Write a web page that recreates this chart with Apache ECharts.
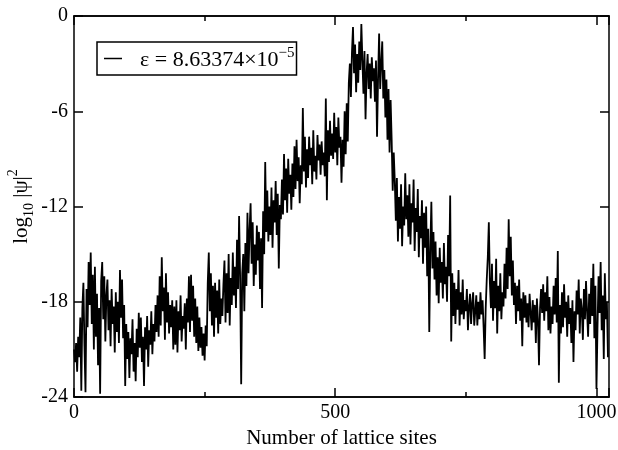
<!DOCTYPE html>
<html>
<head>
<meta charset="utf-8">
<title>log10 |psi|^2</title>
<script src="https://cdn.jsdelivr.net/npm/echarts@6/dist/echarts.min.js"></script>
<style>
  html, body { margin: 0; padding: 0; background: #fff; }
  #main { width: 618px; height: 450px; }
</style>
</head>
<body>
<div id="main"></div>
<script>
// every 2nd lattice site
var siteStep = 2;
var siteMax = 1024;
var xTickLabels = [0, 500, 1000];
var yTickLabels = [-24, -18, -12, -6, 0];
var epsLabel = 'ε = 8.63374×10';
var epsExp = '−5';

var logPsi = [
  -21.0, -21.8, -20.6, -22.4, -20.2, -21.5, -19.0, -23.6, -18.4, -16.8, -20.8, -23.7, -17.2, -19.6, -15.5, -18.2,
  -14.9, -19.4, -16.3, -21.0, -15.8, -20.2, -17.5, -22.0, -18.4, -23.8, -16.7, -15.5, -19.1, -16.4, -20.5, -17.6,
  -16.6, -19.8, -17.9, -20.8, -17.2, -19.4, -18.3, -21.2, -17.4, -19.9, -18.0, -20.6, -16.0, -19.0, -16.6, -20.3,
  -18.2, -23.3, -19.4, -21.6, -19.9, -22.8, -20.3, -21.3, -19.1, -22.4, -20.6, -23.0, -19.7, -21.5, -18.7, -20.9,
  -19.0, -21.8, -20.2, -23.3, -19.6, -21.0, -18.9, -22.1, -19.8, -20.7, -18.6, -21.3, -19.4, -20.5, -18.2, -19.9,
  -17.6, -20.2, -16.4, -19.5, -15.2, -18.6, -17.1, -20.4, -16.2, -19.3, -17.4, -20.0, -18.2, -19.6, -17.9, -21.0,
  -18.3, -20.7, -17.9, -21.2, -18.6, -19.8, -17.6, -20.5, -18.9, -19.7, -18.1, -21.0, -17.8, -19.3, -16.4, -19.9,
  -16.3, -19.2, -17.0, -20.2, -17.8, -20.6, -18.3, -21.1, -19.0, -20.9, -19.6, -21.4, -20.0, -21.7, -19.5, -20.8,
  -16.8, -14.9, -18.6, -16.2, -19.5, -17.0, -20.2, -16.8, -19.0, -17.3, -20.0, -16.6, -19.4, -17.8, -18.9, -16.9,
  -15.4, -19.3, -16.2, -18.7, -15.0, -19.5, -16.5, -18.2, -14.9, -17.6, -15.8, -18.4, -14.1, -17.2, -12.6, -16.5,
  -23.2, -16.2, -15.0, -18.6, -14.3, -17.0, -12.4, -16.2, -13.5, -11.8, -15.6, -13.0, -17.0, -14.4, -16.3, -13.2,
  -15.4, -13.6, -17.2, -14.0, -18.4, -12.3, -15.0, -9.2, -13.6, -11.0, -14.2, -12.0, -13.8, -10.8, -14.6, -11.6,
  -13.0, -10.4, -13.8, -11.2, -15.9, -11.9, -12.8, -10.3, -12.5, -8.7, -11.6, -9.6, -12.4, -9.0, -11.2, -10.0,
  -12.2, -9.3, -11.4, -8.2, -10.9, -7.8, -10.4, -8.9, -11.8, -9.4, -10.6, -5.8, -9.8, -7.6, -10.8, -8.4,
  -10.2, -7.6, -9.4, -8.3, -10.6, -7.2, -9.8, -8.8, -10.3, -7.5, -9.1, -8.1, -10.0, -7.9, -9.4, -8.6,
  -10.1, -5.2, -11.6, -7.2, -9.2, -6.6, -8.8, -7.4, -9.0, -6.1, -8.6, -7.0, -9.4, -6.4, -8.3, -7.6,
  -10.5, -7.8, -9.5, -6.0, -8.7, -5.5, -7.9, -4.2, -3.0, -5.1, -2.3, -0.7, -3.6, -1.8, -4.8, -2.4,
  -4.2, -1.6, -3.4, -0.5, -2.8, -4.9, -2.2, -6.5, -3.6, -2.4, -4.6, -3.0, -5.2, -2.6, -4.1, -3.3,
  -5.4, -2.8, -7.6, -3.9, -1.1, -4.6, -3.0, -1.6, -5.2, -3.4, -6.4, -4.0, -7.8, -4.6, -8.6, -5.3,
  -7.8, -11.0, -8.6, -10.4, -12.9, -10.2, -14.2, -11.4, -13.4, -10.6, -14.5, -12.0, -13.2, -9.9, -12.8, -11.3,
  -13.9, -10.6, -14.4, -11.8, -13.0, -10.3, -14.8, -12.1, -13.6, -10.9, -15.2, -12.6, -14.0, -11.6, -15.6, -12.4,
  -14.6, -12.0, -16.4, -13.4, -19.9, -14.7, -11.7, -15.9, -13.6, -16.6, -14.2, -17.6, -15.2, -18.1, -14.6, -16.8,
  -15.5, -17.8, -14.3, -16.9, -15.8, -18.0, -13.8, -16.4, -11.3, -20.5, -16.2, -18.9, -16.8, -19.4, -17.2, -18.5,
  -16.0, -19.5, -17.4, -18.8, -16.6, -19.1, -17.9, -18.6, -17.2, -19.8, -18.3, -17.5, -19.4, -18.1, -17.4, -19.5,
  -18.6, -17.6, -19.5, -18.0, -19.1, -17.4, -18.8, -17.9, -19.6, -21.6, -18.4, -16.6, -15.2, -13.0, -16.8, -18.4,
  -15.6, -19.2, -16.7, -18.4, -15.3, -20.0, -17.0, -18.6, -16.2, -19.1, -17.4, -18.3, -15.6, -17.8, -14.6, -17.2,
  -12.8, -16.4, -13.9, -17.6, -15.4, -18.2, -16.8, -19.4, -17.0, -18.6, -16.6, -19.2, -17.8, -20.8, -17.4, -19.0,
  -17.6, -19.3, -18.1, -19.6, -17.5, -18.7, -19.8, -17.9, -19.3, -18.2, -20.6, -17.8, -19.1, -22.0, -18.4, -17.2,
  -18.7, -16.9, -19.2, -17.4, -18.6, -16.4, -19.8, -17.7, -20.0, -18.3, -19.4, -17.0, -18.8, -16.5, -19.3, -14.8,
  -23.1, -18.2, -20.0, -17.4, -19.6, -16.9, -19.0, -18.0, -20.2, -17.6, -19.4, -18.4, -20.6, -17.9, -21.8, -18.6,
  -19.8, -17.3, -18.8, -16.6, -20.0, -17.8, -18.5, -20.4, -17.2, -19.1, -16.7, -18.6, -20.2, -17.5, -19.4, -16.5,
  -18.9, -15.6, -20.3, -17.0, -23.5, -19.6, -16.4, -18.7, -15.5, -19.8, -17.6, -21.6, -16.2, -19.1, -18.0, -21.5
];

var serif = 'Liberation Serif';
var black = '#000';

var points = logPsi.map(function (v, i) { return [i * siteStep, v]; });

function xAxisOf(pos, interval, tickLen, showLabel) {
    return {
        type: 'value', position: pos, min: 0, max: siteMax, interval: interval,
        axisLine: { show: true, onZero: false, lineStyle: { color: black, width: 1.5 } },
        axisTick: { show: true, inside: true, length: tickLen, lineStyle: { color: black, width: 1.5 } },
        axisLabel: {
            show: showLabel, margin: 6, color: black, fontFamily: serif, fontSize: 20,
            formatter: function (v) { return xTickLabels.indexOf(v) >= 0 ? String(v) : ''; }
        },
        splitLine: { show: false }
    };
}

function yAxisOf(pos, showLabel) {
    return {
        type: 'value', position: pos, min: -24, max: 0, interval: 6,
        axisLine: { show: true, onZero: false, lineStyle: { color: black, width: 1.5 } },
        axisTick: { show: true, inside: true, length: 9, lineStyle: { color: black, width: 1.5 } },
        axisLabel: {
            show: showLabel, margin: 6, color: black, fontFamily: serif, fontSize: 20,
            formatter: function (v) { return yTickLabels.indexOf(v) >= 0 ? String(v) : ''; }
        },
        splitLine: { show: false }
    };
}

var xMain = xAxisOf('bottom', 250, 5, true);
xMain.name = 'Number of lattice sites';
xMain.nameLocation = 'middle';
xMain.nameGap = 30;
xMain.nameTextStyle = { color: black, fontFamily: serif, fontSize: 21 };

var yMain = yAxisOf('left', true);
yMain.name = '{n|log}{b|10}{n| |ψ|}{p|2}';
yMain.nameLocation = 'middle';
yMain.nameRotate = 90;
yMain.nameGap = 38;
yMain.nameMoveOverlap = false;
yMain.nameTextStyle = {
    color: black, fontFamily: serif, fontSize: 21,
    rich: {
        n: { fontFamily: serif, fontSize: 21, color: black, lineHeight: 30, verticalAlign: 'middle' },
        b: { fontFamily: serif, fontSize: 14, color: black, lineHeight: 12, verticalAlign: 'bottom' },
        p: { fontFamily: serif, fontSize: 14, color: black, lineHeight: 14, verticalAlign: 'top' }
    }
};

var myChart = echarts.init(document.getElementById('main'), null, { renderer: 'canvas' });

var option = {
    backgroundColor: '#fff',
    animation: false,
    grid: { left: 74, right: 9, top: 16, bottom: 53, containLabel: false, outerBoundsMode: 'none' },
    legend: {
        left: 97, top: 42,
        borderColor: black, borderWidth: 1.5, borderRadius: 0,
        padding: [4, 2, 4, 7],
        icon: 'rect',
        itemWidth: 18, itemHeight: 1.5,
        itemStyle: { color: black },
        textStyle: {
            color: black, fontFamily: serif, fontSize: 22,
            rich: {
                e: { fontFamily: serif, fontSize: 22, color: black, lineHeight: 25, padding: [0, 0, 0, 13], verticalAlign: 'bottom' },
                p: { fontFamily: serif, fontSize: 15, color: black, lineHeight: 15, verticalAlign: 'top' }
            }
        },
        formatter: function () { return '{e|' + epsLabel + '}{p|' + epsExp + '}'; },
        data: ['eps']
    },
    xAxis: [
        xMain,
        xAxisOf('bottom', 500, 9, false),
        xAxisOf('top', 250, 5, false),
        xAxisOf('top', 500, 9, false)
    ],
    yAxis: [
        yMain,
        yAxisOf('right', false)
    ],
    series: [{
        name: 'eps',
        type: 'line',
        xAxisIndex: 0,
        yAxisIndex: 0,
        symbol: 'none',
        lineStyle: { color: black, width: 1.8 },
        itemStyle: { color: black },
        data: points
    }]
};

myChart.setOption(option);
</script>
</body>
</html>
